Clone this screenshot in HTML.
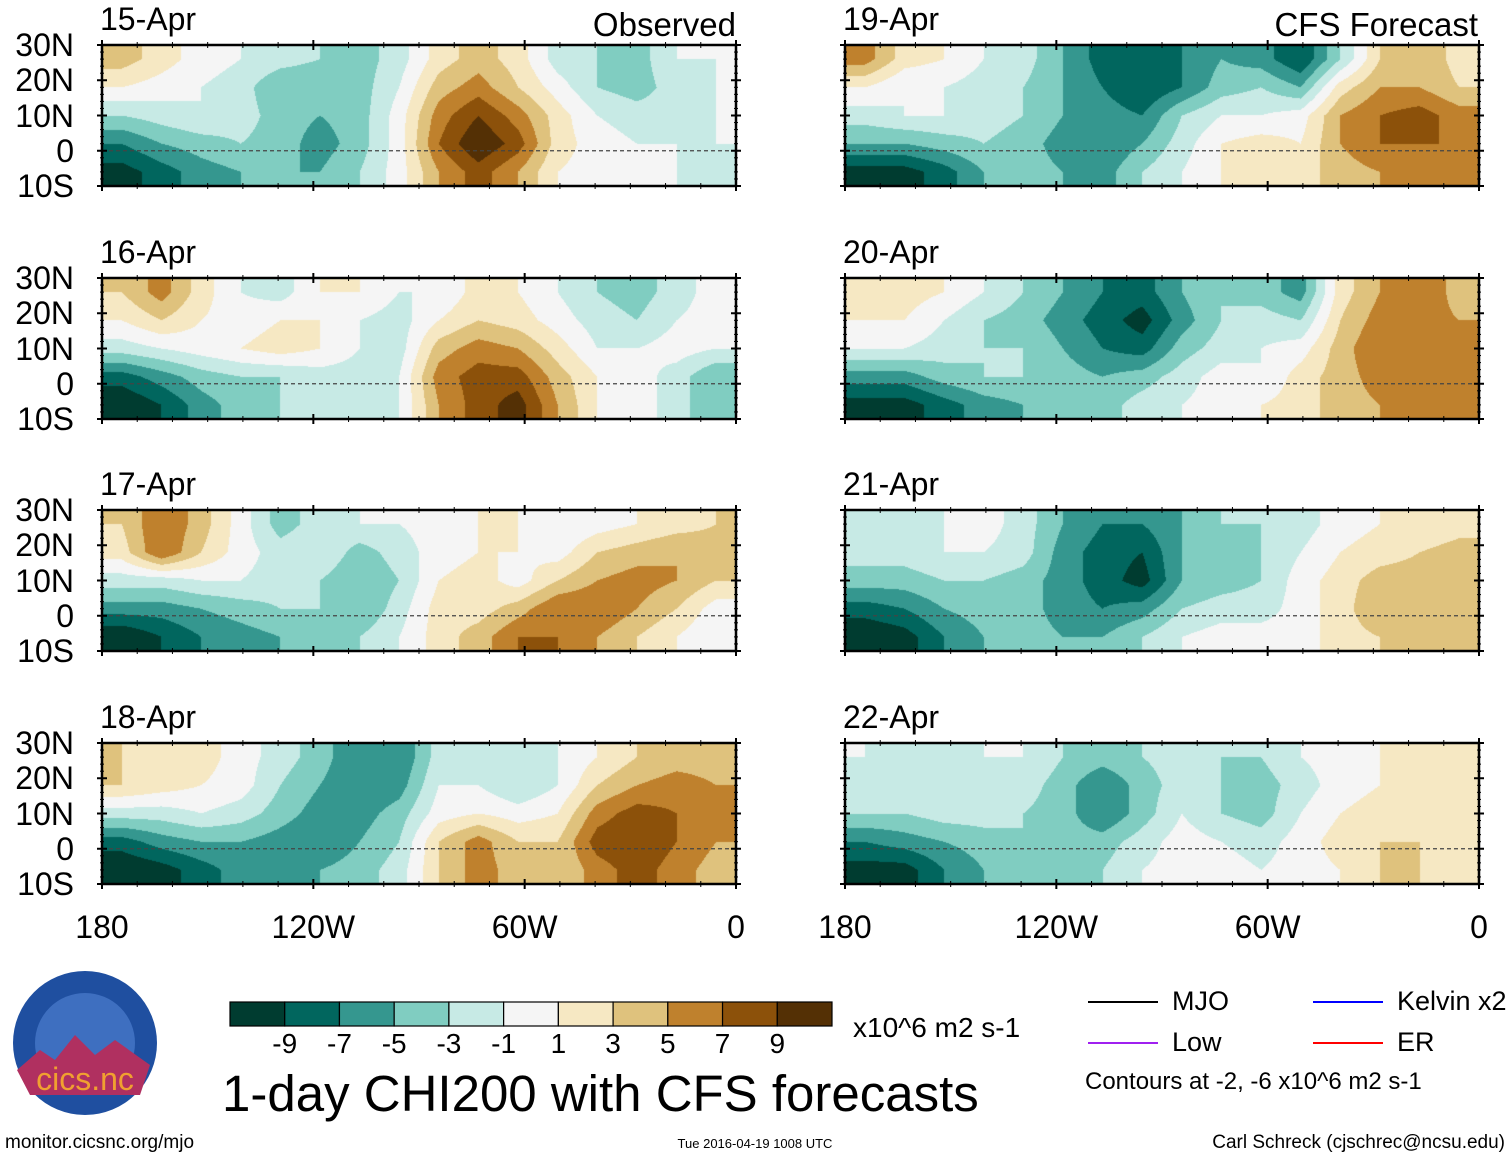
<!DOCTYPE html>
<html><head><meta charset="utf-8">
<style>
body{margin:0;background:#fff;width:1510px;height:1158px;overflow:hidden;position:relative;font-family:"Liberation Sans",sans-serif;}
.t{position:absolute;white-space:nowrap;color:#000;line-height:1;}
canvas{position:absolute;}
</style></head><body>
<svg id="axes" width="1510" height="1158" style="position:absolute;left:0;top:0;z-index:2"></svg>
<div id="labels"></div>
<script>
const panelDates=["15-Apr","16-Apr","17-Apr","18-Apr","19-Apr","20-Apr","21-Apr","22-Apr"];
const latLabels=["30N","20N","10N","0","10S"];
const lonLabels=["180","120W","60W","0"];
const levels=[-9,-7,-5,-3,-1,1,3,5,7,9];
const levelColors=["#003c30","#01665e","#35978f","#80cdc1","#c7eae5","#f5f5f5","#f6e8c3","#dfc27d","#bf812d","#8c510a","#543005"];
// rows: 26N,18N,10N,2N,6S ; cols 180 -> 0 in 11.25 deg steps
const chi15=[[4,2,0,-1,-2,-3,-4,-2,2,4,2,-2,-3,-4,-1,-1],[1,0,-1,-2,-5,-5,-4,-1,4,6,3,0,-3,-4,-2,-1],[-3,-2,-1,-2,-4,-5,-4,0,6,9,6,2,-1,-2,-2,-1],[-7,-5,-4,-3,-4,-6,-4,0,7,11,8,2,0,-1,-1,-1],[-10,-8,-6,-5,-5,-5,-3,0,5,8,5,1,0,0,-1,-2]];
const chi16=[[3,6,2,-1,-2,1,1,-1,-1,2,1,-1,-3,-4,-2,0],[1,3,1,0,1,1,-1,-2,1,3,2,0,-2,-3,-1,0],[-2,-1,0,1,2,1,-1,-2,4,6,5,2,-1,-1,0,-1],[-8,-6,-4,-3,-3,-2,-2,-1,6,8,8,4,1,0,-2,-5],[-11,-9,-6,-4,-3,-3,-3,-1,5,8,10,5,1,0,-2,-5]];
const chi17=[[3,7,4,0,-4,-2,-1,-1,0,1,1,-1,0,1,2,3],[2,7,3,0,-2,-1,-4,-2,0,1,1,0,3,4,5,4],[-2,-2,-1,-1,-2,-3,-5,-3,1,2,0,3,5,6,5,3],[-6,-6,-5,-4,-3,-3,-5,-2,2,2,4,7,7,5,3,0],[-11,-9,-7,-6,-5,-4,-3,-1,2,4,7,7,5,3,1,-1]];
const chi18=[[3,2,2,0,-2,-4,-7,-7,-2,-2,-3,-1,1,3,4,4],[3,2,1,0,-3,-5,-7,-6,-1,-1,-3,-1,3,5,6,5],[-2,-2,-1,-2,-4,-6,-6,-4,0,1,0,1,6,8,7,5],[-8,-6,-5,-5,-6,-7,-5,-3,3,6,3,3,8,9,7,5],[-11,-10,-8,-6,-6,-5,-4,-2,3,6,4,3,6,8,6,4]];
const chi19=[[6,2,1,-1,-2,-5,-8,-9,-7,-5,-6,-9,-3,3,5,2],[1,-1,-1,-2,-3,-5,-7,-9,-7,-4,-3,-5,2,5,5,3],[-2,-1,-1,-2,-3,-5,-6,-7,-3,-1,-1,0,5,7,8,6],[-5,-5,-4,-3,-4,-6,-7,-5,-2,1,2,1,5,7,7,7],[-10,-10,-8,-5,-4,-5,-6,-3,-1,1,2,2,4,5,5,5]];
const chi20=[[2,2,1,-1,-3,-5,-7,-8,-5,-3,-4,-6,2,5,7,4],[1,1,-1,-3,-4,-6,-8,-10,-6,-3,-2,-3,3,6,6,5],[-1,-1,-2,-3,-3,-5,-7,-8,-4,-2,-1,0,4,7,6,5],[-6,-6,-4,-3,-3,-4,-5,-4,-2,0,-1,2,4,6,5,5],[-10,-10,-8,-6,-5,-4,-4,-2,-1,0,1,2,4,5,5,5]];
const chi21=[[-3,-2,-1,0,-2,-5,-7,-7,-5,-3,-3,-2,0,1,1,2],[-2,-2,-1,-1,-2,-6,-8,-9,-5,-4,-3,-1,1,2,3,4],[-4,-4,-3,-3,-4,-6,-8,-10,-5,-4,-3,0,2,4,4,4],[-8,-7,-5,-4,-4,-6,-7,-6,-3,-2,-2,0,2,5,4,3],[-11,-10,-7,-5,-4,-5,-5,-3,-1,0,0,0,2,3,3,3]];
const chi22=[[-1,-2,-2,-1,-1,-3,-4,-3,-2,-3,-3,-1,0,1,1,1],[-2,-2,-2,-2,-2,-4,-7,-4,-2,-3,-4,-2,0,1,1,1],[-3,-3,-2,-2,-3,-4,-7,-4,-1,-3,-4,-1,1,2,1,1],[-7,-6,-5,-4,-3,-4,-4,-2,0,-1,-2,0,2,3,3,2],[-10,-10,-7,-5,-4,-4,-3,-1,0,0,-1,0,1,3,3,2]];
const fields=[chi15,chi16,chi17,chi18,chi19,chi20,chi21,chi22];

const PW=634,PH=141,colX=[102,845],rowY=[45,278,510,743];
const NS="http://www.w3.org/2000/svg";
const svg=document.getElementById('axes');
const lab=document.getElementById('labels');
function xOfLon(lonW,x0){return x0+(180-lonW)/180*PW;}
function yOfLat(lat,y0){return y0+(30-lat)/40*PH;}
function colorOf(v){let i=0;while(i<levels.length&&v>=levels[i])i++;return levelColors[i];}
function hex(c){return [parseInt(c.slice(1,3),16),parseInt(c.slice(3,5),16),parseInt(c.slice(5,7),16)];}
function addText(txt,x,y,size,name,anchor){
  const d=document.createElement('div');d.className='t';d.textContent=txt;
  d.style.fontSize=size+'px';d.style.top=y+'px';
  if(anchor==='r'){d.style.right=(1510-x)+'px';}else if(anchor==='c'){d.style.left=x+'px';d.style.transform='translateX(-50%)';}else d.style.left=x+'px';
  
  
  lab.appendChild(d);return d;
}
function sEl(tag,attrs,name){const e=document.createElementNS(NS,tag);for(const k in attrs)e.setAttribute(k,attrs[k]);
  
  
  svg.appendChild(e);return e;}

fields.forEach((g,p)=>{
  const x0=colX[p<4?0:1],y0=rowY[p%4];
  const cv=document.createElement('canvas');cv.width=PW;cv.height=PH;cv.style.left=x0+'px';cv.style.top=y0+'px';
  
  
  document.body.appendChild(cv);
  const ctx=cv.getContext('2d');const img=ctx.createImageData(PW,PH);
  const nc=g[0].length,nr=g.length;
  for(let y=0;y<PH;y++){
    let fy=Math.min(Math.max((y+0.5)/PH*nr-0.5,0),nr-1);const j0=Math.floor(fy),j1=Math.min(j0+1,nr-1),ty=fy-j0;
    for(let x=0;x<PW;x++){
      let fx=Math.min(Math.max((x+0.5)/PW*nc-0.5,0),nc-1);const i0=Math.floor(fx),i1=Math.min(i0+1,nc-1),tx=fx-i0;
      const v=(g[j0][i0]*(1-tx)+g[j0][i1]*tx)*(1-ty)+(g[j1][i0]*(1-tx)+g[j1][i1]*tx)*ty;
      const c=hex(colorOf(v));const k=(y*PW+x)*4;img.data[k]=c[0];img.data[k+1]=c[1];img.data[k+2]=c[2];img.data[k+3]=255;
    }
  }
  ctx.putImageData(img,0,0);
  sEl('rect',{x:x0,y:y0,width:PW,height:PH,fill:'none',stroke:'#000','stroke-width':2.5},'panel-frame');
  sEl('line',{x1:x0,x2:x0+PW,y1:yOfLat(0,y0),y2:yOfLat(0,y0),stroke:'#444','stroke-dasharray':'4,3','stroke-width':1.2},'equator-line');
  for(let lon=180;lon>=0;lon-=10){const x=xOfLon(lon,x0);const big=lon%60===0;const L=big?5:3;
    sEl('line',{x1:x,x2:x,y1:y0-L,y2:y0+L,stroke:'#000','stroke-width':big?2:1},'lon-tick');
    sEl('line',{x1:x,x2:x,y1:y0+PH-L,y2:y0+PH+L,stroke:'#000','stroke-width':big?2:1},'lon-tick');}
  for(let lat=30;lat>=-10;lat-=2){const y=yOfLat(lat,y0);const big=lat%10===0;const L=big?5:2;
    sEl('line',{x1:x0-L,x2:x0+L,y1:y,y2:y,stroke:'#000','stroke-width':big?2:1},'lat-tick');
    sEl('line',{x1:x0+PW-L,x2:x0+PW+L,y1:y,y2:y,stroke:'#000','stroke-width':big?2:1},'lat-tick');}
  addText(panelDates[p],x0-2,y0-42,32,'panel-title');
  if(p<4){latLabels.forEach((l,i)=>addText(l,74,yOfLat(30-10*i,y0)-16,32,'lat-label','r'));}
});
addText('Observed',736,8,33,'observed-label','r');
addText('CFS Forecast',1478,8,33,'cfs-forecast-label','r');
[0,1].forEach(c=>lonLabels.forEach((l,i)=>addText(l,colX[c]+i*PW/3,911,32,'lon-label','c')));

const cbX=230,cbW=602,cbY=1002,cbH=24;
levelColors.forEach((c,i)=>sEl('rect',{x:cbX+i*cbW/11,y:cbY,width:cbW/11,height:cbH,fill:c,stroke:'#000','stroke-width':1.2},'colorbar-box'));
levels.forEach((v,i)=>{ if(v%2!==0 && Math.abs(v)<=9) addText(String(v),cbX+(i+1)*cbW/11,1030,28,'colorbar-label','c');});
addText('x10^6 m2 s-1',853,1014,28,'units-label');
addText('1-day CHI200 with CFS forecasts',222,1068,51,'chart-title');
const leg=[['MJO','#000',1088,1002],['Kelvin x2','#0000ff',1313,1002],['Low','#a020f0',1088,1043],['ER','#ff0000',1313,1043]];
leg.forEach(l=>{sEl('line',{x1:l[2],x2:l[2]+70,y1:l[3],y2:l[3],stroke:l[1],'stroke-width':2},'legend-line-'+l[0].split(' ')[0].toLowerCase());
  addText(l[0],l[2]+84,l[3]-14,27,'legend-entry-'+l[0].split(' ')[0].toLowerCase());});
addText('Contours at -2, -6 x10^6 m2 s-1',1085,1070,24,'contours-note');
addText('monitor.cicsnc.org/mjo',5,1133,19,'source-url');
addText('Tue 2016-04-19 1008 UTC',755,1137,13,'timestamp','c');
addText('Carl Schreck (cjschrec@ncsu.edu)',1505,1133,19,'author-credit','r');
sEl('circle',{cx:85,cy:1043,r:72,fill:'#1f4fa0'},'cics-logo');
sEl('circle',{cx:85,cy:1043,r:50,fill:'#3e6fc0'},'cics-logo-inner');
sEl('path',{d:'M17 1070 L40 1050 L55 1060 L75 1035 L95 1055 L115 1040 L150 1065 L140 1095 L30 1095 Z',fill:'#b03060'},'cics-logo-mountains');
const lt=document.createElementNS(NS,'text');lt.setAttribute('x',85);lt.setAttribute('y',1090);lt.setAttribute('text-anchor','middle');
lt.setAttribute('fill','#f0a030');lt.setAttribute('font-size','32');lt.setAttribute('font-family','Liberation Sans, sans-serif');lt.textContent='cics.nc';


svg.appendChild(lt);
</script>
</body></html>
